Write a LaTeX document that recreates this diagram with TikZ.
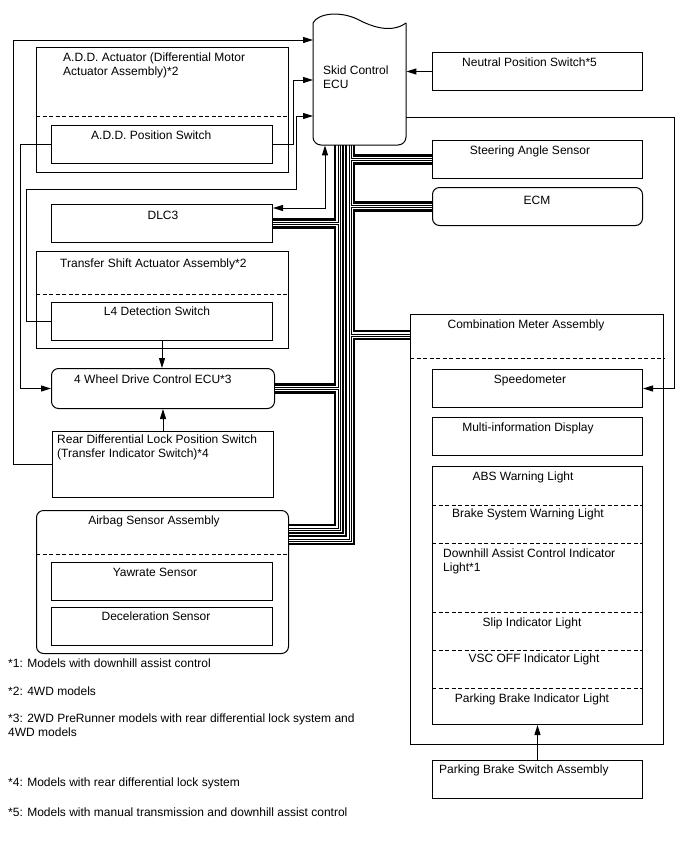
\documentclass[tikz,border=0pt]{standalone}
\usepackage{fontspec}
\setmainfont{Liberation Sans}
\usepackage{tikz}
\usetikzlibrary{arrows.meta,calc}
\tikzset{
  % plain and rounded component boxes, placed by their top left corner
  box/.style     = {draw, line width=1pt, inner sep=0pt, anchor=north west},
  rbox/.style    = {box, rounded corners=7pt},
  sep/.style     = {line width=1pt, dash pattern=on 4pt off 2.5pt},
  lbl/.style     = {font=\fontsize{12}{14}\selectfont, inner sep=0pt, align=left},
  sig/.style     = {-{Triangle[length=10pt,width=6pt]}, line width=1pt},
  sigboth/.style = {{Triangle[length=10pt,width=6pt]}-{Triangle[length=10pt,width=6pt]}, line width=1pt},
}
\begin{document}
\begin{tikzpicture}[x=1pt,y=-1pt]
\useasboundingbox (0,0) rectangle (688,852);
% skid control ECU
\node[inner sep=0pt, anchor=north west, minimum width=93, minimum height=130] (ecu) at (313,15) {};
\node[lbl, anchor=north west] (ecu-t) at (323,66) {Skid Control\\ECU};
% right column
\node[box, minimum width=210, minimum height=38] (nps) at (432,52) {};
\node[box, minimum width=210, minimum height=38] (sas) at (432,140) {};
\node[rbox, minimum width=210, minimum height=38] (ecm) at (432,187) {};
\node[lbl, anchor=base west] (nps-t) at (462,66) {Neutral Position Switch*5};
\node[lbl, anchor=base] (sas-t) at (530,154) {Steering Angle Sensor};
\node[lbl, anchor=base] (ecm-t) at (537,204) {ECM};
% left column
\node[box, minimum width=252, minimum height=125] (addact) at (36,47) {};
\node[box, minimum width=221, minimum height=38] (adds) at (51,125) {};
\node[box, minimum width=221, minimum height=38] (dlc) at (51,204) {};
\node[box, minimum width=252, minimum height=97] (tsa) at (36,251) {};
\node[box, minimum width=221, minimum height=38] (l4) at (51,302) {};
\node[rbox, minimum width=223, minimum height=40] (wd) at (51,368) {};
\node[box, minimum width=221, minimum height=66] (rdl) at (52,431) {};
\node[rbox, minimum width=252, minimum height=143] (abg) at (36,510) {};
\node[box, minimum width=221, minimum height=38] (yaw) at (51,562) {};
\node[box, minimum width=221, minimum height=38] (dec) at (51,607) {};
\draw[sep] (addact.west |- 0,116) -- (addact.east |- 0,116);
\draw[sep] (tsa.west |- 0,294) -- (tsa.east |- 0,294);
\draw[sep] (abg.west |- 0,554) -- (abg.east |- 0,554);
\node[lbl, anchor=north west] (addact-t) at (63,53) {A.D.D. Actuator (Differential Motor\\Actuator Assembly)*2};
\node[lbl, anchor=base west] (adds-t) at (91,139) {A.D.D. Position Switch};
\node[lbl, anchor=base] (dlc-t) at (163,219) {DLC3};
\node[lbl, anchor=base west] (tsa-t) at (60,267) {Transfer Shift Actuator Assembly*2};
\node[lbl, anchor=base] (l4-t) at (157,315) {L4 Detection Switch};
\node[lbl, anchor=base west] (wd-t) at (74,383) {4 Wheel Drive Control ECU*3};
\node[lbl, anchor=north west] (rdl-t) at (57,435) {Rear Differential Lock Position Switch\\(Transfer Indicator Switch)*4};
\node[lbl, anchor=base] (abg-t) at (154,524) {Airbag Sensor Assembly};
\node[lbl, anchor=base] (yaw-t) at (155,576) {Yawrate Sensor};
\node[lbl, anchor=base] (dec-t) at (156,620) {Deceleration Sensor};
% combination meter
\node[box, minimum width=253, minimum height=430] (cma) at (410,314) {};
\node[box, minimum width=210, minimum height=38] (spd) at (432,369) {};
\node[box, minimum width=210, minimum height=38] (mid) at (432,417) {};
\node[box, minimum width=210, minimum height=258] (wl) at (432,466) {};
\node[box, minimum width=210, minimum height=38] (pbs) at (432,760) {};
\draw[sep] (cma.west |- 0,358) -- (cma.east |- 0,358);
\foreach \y in {505,543,612,650,688}
  \draw[sep] (wl.west |- 0,\y) -- (wl.east |- 0,\y);
\node[lbl, anchor=base] (cma-t) at (526,328) {Combination Meter Assembly};
\node[lbl, anchor=base] (spd-t) at (530,383) {Speedometer};
\node[lbl, anchor=base] (mid-t) at (528,431) {Multi-information Display};
\node[lbl, anchor=base] (abs-t) at (523,480) {ABS Warning Light};
\node[lbl, anchor=base] (bsw-t) at (528,517) {Brake System Warning Light};
\node[lbl, anchor=north west] (dac-t) at (443,549) {Downhill Assist Control Indicator\\Light*1};
\node[lbl, anchor=base] (slip-t) at (532,626) {Slip Indicator Light};
\node[lbl, anchor=base] (vsc-t) at (534,662) {VSC OFF Indicator Light};
\node[lbl, anchor=base] (pbi-t) at (532,702) {Parking Brake Indicator Light};
\node[lbl, anchor=base west] (pbs-t) at (439,773) {Parking Brake Switch Assembly};
% footnotes
\node[lbl, anchor=base west] (fn1) at (8,667) {*1: Models with downhill assist control};
\node[lbl, anchor=base west] (fn2) at (8,695) {*2: 4WD models};
\node[lbl, anchor=north west] (fn3) at (8,714) {*3: 2WD PreRunner models with rear differential lock system and\\4WD models};
\node[lbl, anchor=base west] (fn4) at (8,786) {*4: Models with rear differential lock system};
\node[lbl, anchor=base west] (fn5) at (8,816) {*5: Models with manual transmission and downhill assist control};
% CAN buses
\coordinate (lbus) at (339,145);
\coordinate (rbus) at (350,145);
\foreach \w/\c in {10.5/black,5.5/white,3/black,1/white}
  \draw[line width=\w pt, draw=\c] (lbus) -- (lbus |- 0,529) -- (abg.east |- 0,529)
    (dlc.east) -- (dlc.east -| lbus) (wd.east) -- (wd.east -| lbus);
\foreach \w/\c in {10.5/black,5.5/white,3/black,1/white}
  \draw[line width=\w pt, draw=\c] (rbus) -- (rbus |- 0,540) -- (abg.east |- 0,540)
    (sas.west) -- (sas.west -| rbus) (ecm.west) -- (ecm.west -| rbus)
    (cma.west |- 0,335) -- (rbus |- 0,335);
% ECU outline
\draw[line width=1pt, rounded corners=8pt] (313,23) -- (313,145) -- (406,145) -- (406,23);
\draw[line width=1pt] (313,23) .. controls (318,13) and (340,11) .. (357,19)
                               .. controls (374,28) and (392,33) .. (406,23);
% signal lines
\draw[sig] (rdl.west) -- ++(-39,0) |- ($(ecu.north west)+(0,25)$);
\draw[sig] (adds.east) -- ++(20,0) |- ($(ecu.north west)+(0,65)$);
\draw[sig] (adds.west) -- ++(-31,0) |- (wd.west);
\coordinate (l4turn) at (296,189);
\draw[sig] (l4.west) -- ++(-25,0) |- (l4turn) |- ($(ecu.north west)+(0,101)$);
\draw[sigboth] ($(ecu.south west)+(12,0)$) |- ($(dlc.north east)+(0,4)$);
\draw[sig] (nps.west) -- (nps.west -| ecu.east);
\draw[sig] ($(ecu.north east)+(0,102)$) -- ++(268,0) |- (spd.east);
\draw[sig] (l4.south) -- (l4.south |- wd.north);
\draw[sig] (rdl.north) -- (rdl.north |- wd.south);
\draw[sig] (pbs.north) -- (wl.south);
\end{tikzpicture}
\end{document}
